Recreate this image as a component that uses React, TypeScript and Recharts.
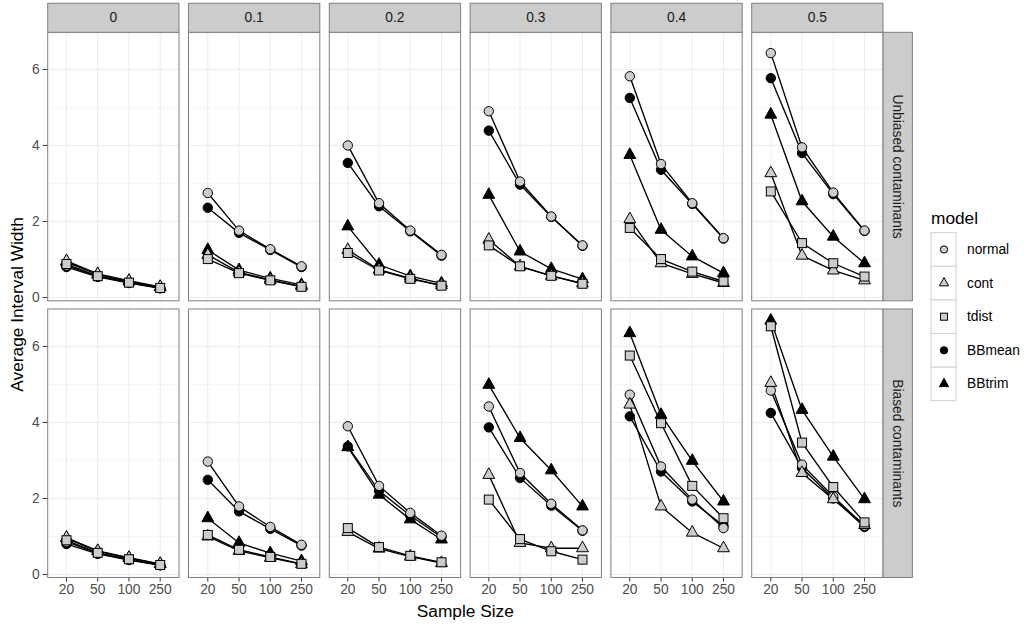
import React from 'react';
import { LineChart, Line, XAxis, YAxis, CartesianGrid } from 'recharts';

// ---------- data ----------
const sampleSizes = ['20', '50', '100', '250'];
const contamLevels = ['0', '0.1', '0.2', '0.3', '0.4', '0.5'];
const biasLabels = ['Unbiased contaminants', 'Biased contaminants'];
const modelNames = ['normal', 'cont', 'tdist', 'BBmean', 'BBtrim'];
const yTicks = [0, 2, 4, 6];
const yMinorTicks = [1, 3, 5];

// each inner array: one contamination level, values at n = 20, 50, 100, 250
const normalUnbiased = [
  [0.84, 0.56, 0.39, 0.25], [2.75, 1.76, 1.27, 0.82], [4.0, 2.48, 1.76, 1.12],
  [4.9, 3.05, 2.13, 1.37], [5.82, 3.51, 2.48, 1.56], [6.43, 3.95, 2.76, 1.76],
];
const contUnbiased = [
  [0.96, 0.62, 0.44, 0.28], [1.12, 0.66, 0.46, 0.29], [1.25, 0.73, 0.5, 0.32],
  [1.52, 0.82, 0.57, 0.37], [2.06, 0.9, 0.62, 0.38], [3.27, 1.1, 0.71, 0.45],
];
const tdistUnbiased = [
  [0.88, 0.56, 0.39, 0.25], [1.01, 0.64, 0.45, 0.28], [1.17, 0.71, 0.49, 0.31],
  [1.37, 0.82, 0.57, 0.36], [1.83, 1.01, 0.68, 0.42], [2.79, 1.43, 0.9, 0.55],
];
const bbmeanUnbiased = [
  [0.8, 0.54, 0.38, 0.24], [2.36, 1.7, 1.25, 0.8], [3.54, 2.4, 1.74, 1.1],
  [4.39, 2.97, 2.12, 1.36], [5.25, 3.36, 2.46, 1.55], [5.77, 3.8, 2.72, 1.75],
];
const bbtrimUnbiased = [
  [0.93, 0.6, 0.42, 0.27], [1.25, 0.72, 0.5, 0.33], [1.87, 0.86, 0.56, 0.37],
  [2.7, 1.21, 0.75, 0.48], [3.75, 1.78, 1.08, 0.64], [4.81, 2.53, 1.6, 0.9],
];

const normalBiased = [
  [0.86, 0.56, 0.39, 0.25], [2.97, 1.79, 1.25, 0.78], [3.9, 2.33, 1.62, 1.02],
  [4.42, 2.67, 1.86, 1.16], [4.73, 2.84, 1.97, 1.22], [4.84, 2.89, 2.05, 1.28],
];
const contBiased = [
  [0.97, 0.62, 0.44, 0.28], [1.0, 0.62, 0.44, 0.27], [1.12, 0.68, 0.47, 0.3],
  [2.62, 0.83, 0.69, 0.69], [4.47, 1.79, 1.1, 0.69], [5.04, 2.67, 1.98, 1.3],
];
const tdistBiased = [
  [0.9, 0.57, 0.4, 0.25], [1.04, 0.65, 0.46, 0.28], [1.22, 0.72, 0.49, 0.32],
  [1.97, 0.93, 0.61, 0.39], [5.76, 3.98, 2.33, 1.48], [6.53, 3.47, 2.3, 1.37],
];
const bbmeanBiased = [
  [0.8, 0.54, 0.38, 0.24], [2.49, 1.66, 1.2, 0.76], [3.37, 2.2, 1.55, 0.98],
  [3.87, 2.54, 1.81, 1.15], [4.16, 2.71, 1.92, 1.28], [4.25, 2.8, 2.0, 1.25],
];
const bbtrimBiased = [
  [0.95, 0.61, 0.43, 0.27], [1.48, 0.83, 0.56, 0.35], [3.35, 2.1, 1.45, 0.92],
  [4.99, 3.59, 2.74, 1.79], [6.35, 4.2, 2.99, 1.92], [6.68, 4.33, 3.1, 1.98],
];

const seriesByRow: Record<string, number[][]>[] = [
  { normal: normalUnbiased, cont: contUnbiased, tdist: tdistUnbiased, BBmean: bbmeanUnbiased, BBtrim: bbtrimUnbiased },
  { normal: normalBiased, cont: contBiased, tdist: tdistBiased, BBmean: bbmeanBiased, BBtrim: bbtrimBiased },
];

// ---------- styling ----------
const FONT = '"Liberation Sans", Arial, Helvetica, sans-serif';
const GREY_FILL = '#CCCCCC';
const modelStyle: Record<string, { shape: string; fill: string }> = {
  normal: { shape: 'circle', fill: GREY_FILL },
  cont: { shape: 'triangle', fill: GREY_FILL },
  tdist: { shape: 'square', fill: GREY_FILL },
  BBmean: { shape: 'circle', fill: '#000000' },
  BBtrim: { shape: 'triangle', fill: '#000000' },
};
const pointOrder = ['BBmean', 'BBtrim', 'normal', 'cont', 'tdist'];

const PX0 = 47.7;
const PSTEP = 140.8;
const PW = 131.3;
const ROW_TOP = [32.3, 309.0];
const PH = 268.5;
const YW = 47.7;
const XH = 32;
const EXTRA = 10;
const STRIP_TOP = 3.3;
const STRIP_H = 29;
const Y_DOMAIN: [number, number] = [-0.08, 6.985];
const X_PAD = 18.8;

function Marker({ shape, fill, cx, cy, s }: { shape: string; fill: string; cx: number; cy: number; s: number }) {
  if (shape === 'circle') {
    return <circle cx={cx} cy={cy} r={4.7 * s} fill={fill} stroke="#000" strokeWidth={1} />;
  }
  if (shape === 'triangle') {
    const hw = 5.9 * s, top = 7.1 * s, bot = 3.5 * s;
    const pts = `${cx},${cy - top} ${cx + hw},${cy + bot} ${cx - hw},${cy + bot}`;
    return <polygon points={pts} fill={fill} stroke="#000" strokeWidth={1} strokeLinejoin="miter" />;
  }
  const h = 4.5 * s;
  return <rect x={cx - h} y={cy - h} width={2 * h} height={2 * h} fill={fill} stroke="#000" strokeWidth={1} />;
}

function makeDot(model: string, tag: string) {
  const st = modelStyle[model];
  return (props: any) => {
    const { cx, cy, index } = props;
    const key = `${tag}-${model}-${index}`;
    if (cx == null || cy == null || isNaN(cx) || isNaN(cy)) return <g key={key} />;
    return (
      <g key={key}>
        <Marker shape={st.shape} fill={st.fill} cx={cx} cy={cy} s={1} />
      </g>
    );
  };
}

function buildPanelData(row: number, col: number) {
  const s = seriesByRow[row];
  return sampleSizes.map((n, i) => {
    const o: Record<string, any> = { n };
    modelNames.forEach((m) => {
      o[m] = s[m][col][i];
    });
    return o;
  });
}

function Panel({ row, col }: { row: number; col: number }) {
  const leftAxis = col === 0;
  const bottomAxis = row === 1;
  const width = PW + (leftAxis ? YW : 0);
  const height = PH + (bottomAxis ? XH : 0) + EXTRA;
  const left = PX0 + col * PSTEP - (leftAxis ? YW : 0);
  const top = ROW_TOP[row];
  const data = buildPanelData(row, col);
  const tag = `p${row}${col}`;
  return (
    <div style={{ position: 'absolute', left, top, width, height }}>
      <LineChart width={width} height={height} data={data} margin={{ top: 0, right: 0, bottom: EXTRA, left: 0 }}>
        <CartesianGrid horizontalValues={yMinorTicks} vertical={false} stroke="#F4F4F4" strokeWidth={0.8} />
        <CartesianGrid horizontalValues={yTicks} verticalValues={sampleSizes} stroke="#EBEBEB" strokeWidth={1} />
        <XAxis
          dataKey="n"
          type="category"
          hide={!bottomAxis}
          height={XH}
          padding={{ left: X_PAD, right: X_PAD }}
          interval={0}
          axisLine={false}
          tickSize={4}
          tickMargin={3}
          tickLine={{ stroke: '#333333', strokeWidth: 1 }}
          tick={{ fill: '#4D4D4D', fontSize: 13.8, fontFamily: FONT }}
        />
        <YAxis
          type="number"
          domain={Y_DOMAIN}
          ticks={yTicks}
          hide={!leftAxis}
          width={YW}
          interval={0}
          axisLine={false}
          tickSize={5}
          tickMargin={3}
          tickLine={{ stroke: '#333333', strokeWidth: 1 }}
          tick={{ fill: '#4D4D4D', fontSize: 13.8, fontFamily: FONT }}
        />
        {modelNames.map((m) => (
          <Line
            key={`line-${m}`}
            dataKey={m}
            type="linear"
            stroke="#000000"
            strokeWidth={1.35}
            dot={false}
            activeDot={false}
            isAnimationActive={false}
          />
        ))}
        {pointOrder.map((m) => (
          <Line
            key={`pts-${m}`}
            dataKey={m}
            type="linear"
            stroke="none"
            dot={makeDot(m, tag)}
            activeDot={false}
            isAnimationActive={false}
          />
        ))}
      </LineChart>
    </div>
  );
}

function Overlay() {
  const panelRight = PX0 + 5 * PSTEP + PW;
  const rStripW = 29.4;
  const legendX = 931;
  const keyW = 25;
  const keyH = 33.6;
  const keyTop = 232.7;
  return (
    <svg
      width={1029}
      height={625}
      style={{ position: 'absolute', left: 0, top: 0, pointerEvents: 'none' }}
      fontFamily={FONT}
    >
      {/* panel borders */}
      {[0, 1].map((r) =>
        contamLevels.map((_, c) => (
          <rect
            key={`b${r}${c}`}
            x={PX0 + c * PSTEP}
            y={ROW_TOP[r]}
            width={PW}
            height={PH}
            fill="none"
            stroke="#7F7F7F"
            strokeWidth={1}
          />
        ))
      )}
      {/* top strips */}
      {contamLevels.map((lab, c) => (
        <g key={`s${c}`}>
          <rect x={PX0 + c * PSTEP} y={STRIP_TOP} width={PW} height={STRIP_H} fill="#CCCCCC" stroke="#7F7F7F" strokeWidth={1} />
          <text
            x={PX0 + c * PSTEP + PW / 2}
            y={STRIP_TOP + STRIP_H / 2}
            textAnchor="middle"
            dominantBaseline="central"
            fontSize={13.8}
            fill="#1A1A1A"
          >
            {lab}
          </text>
        </g>
      ))}
      {/* right strips */}
      {biasLabels.map((lab, r) => (
        <g key={`rs${r}`}>
          <rect x={panelRight} y={ROW_TOP[r]} width={rStripW} height={PH} fill="#CCCCCC" stroke="#7F7F7F" strokeWidth={1} />
          <text
            transform={`translate(${panelRight + rStripW / 2}, ${ROW_TOP[r] + PH / 2}) rotate(90)`}
            textAnchor="middle"
            dominantBaseline="central"
            fontSize={13.8}
            fill="#1A1A1A"
          >
            {lab}
          </text>
        </g>
      ))}
      {/* axis titles */}
      <text x={(PX0 + panelRight) / 2} y={616.7} textAnchor="middle" fontSize={17.3} fill="#000">
        Sample Size
      </text>
      <text transform="translate(23.4, 304.4) rotate(-90)" textAnchor="middle" fontSize={17.3} fill="#000">
        Average Interval Width
      </text>
      {/* legend */}
      <text x={legendX} y={224} fontSize={17.3} fill="#000">
        model
      </text>
      {modelNames.map((m, i) => {
        const y = keyTop + i * keyH;
        const st = modelStyle[m];
        return (
          <g key={`lg-${m}`}>
            <rect x={legendX} y={y} width={keyW} height={keyH} fill="#FFFFFF" stroke="#D0D0D0" strokeWidth={1} />
            <Marker shape={st.shape} fill={st.fill} cx={legendX + keyW / 2 + 0.5} cy={y + keyH / 2} s={0.78} />
            <text x={967} y={y + keyH / 2} dominantBaseline="central" fontSize={13.8} fill="#000">
              {m}
            </text>
          </g>
        );
      })}
    </svg>
  );
}

export default function App() {
  return (
    <div style={{ position: 'absolute', left: 0, top: 0, width: 1029, height: 625, background: '#FFFFFF', fontFamily: FONT }}>
      {[0, 1].map((r) => contamLevels.map((_, c) => <Panel key={`${r}-${c}`} row={r} col={c} />))}
      <Overlay />
    </div>
  );
}
